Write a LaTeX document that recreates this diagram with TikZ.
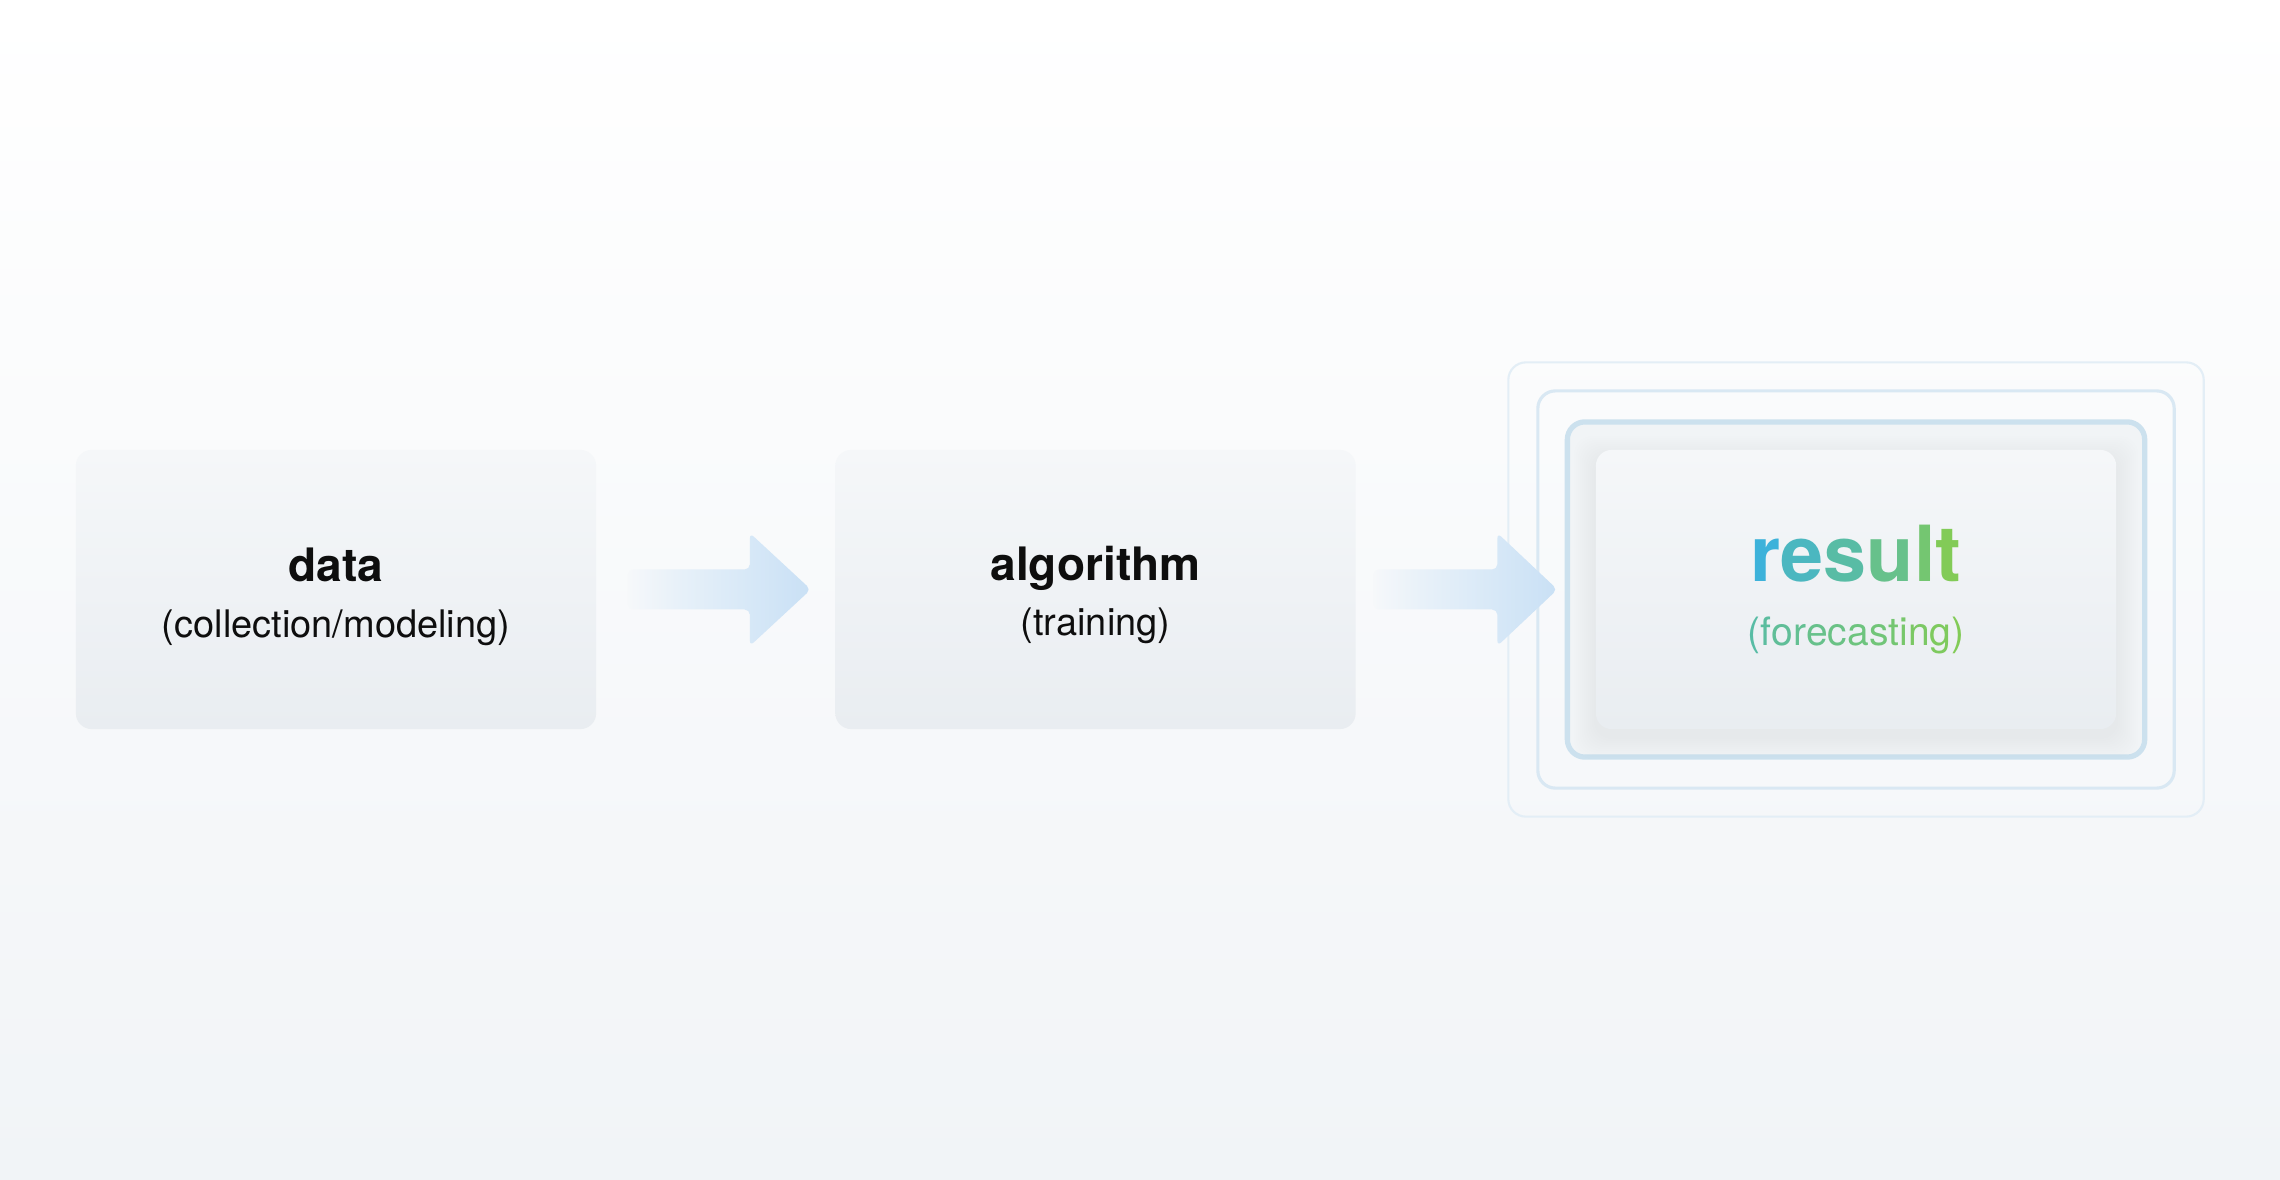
\documentclass[tikz,border=0pt]{standalone}
\usepackage{fontspec}
\setmainfont{TeX Gyre Heros}
\usetikzlibrary{calc}

\definecolor{bgtop}{HTML}{FFFFFF}
\definecolor{bgbottom}{HTML}{F1F4F7}
\definecolor{bgmid}{HTML}{F6F8FA}
\definecolor{cardtop}{HTML}{F5F7F9}
\definecolor{cardbottom}{HTML}{E9EDF1}
\definecolor{arrowpale}{HTML}{E8F1F9}
\definecolor{arrowmid}{HTML}{D7E8F7}
\definecolor{arrowblue}{HTML}{C9E0F5}
\definecolor{ringouter}{HTML}{E3EEF6}
\definecolor{ringmid}{HTML}{D9E8F3}
\definecolor{ringinner}{HTML}{CCE1EE}
\definecolor{ringfill}{HTML}{F1F4F6}
\definecolor{inktext}{HTML}{0E0E0E}
\definecolor{resblue}{HTML}{3DB2DA}
\definecolor{resgreen}{HTML}{82CB57}

\pgfdeclarehorizontalshading{arrowfade}{100bp}{color(0bp)=(bgmid); color(25bp)=(bgmid); color(38bp)=(arrowpale); color(58bp)=(arrowmid); color(75bp)=(arrowblue); color(100bp)=(arrowblue)}

% one letter of the green/blue word
\newcommand{\gradletter}[2]{\textcolor{resgreen!#1!resblue}{#2}}

\tikzset{
  card/.style={rounded corners=4.5pt, minimum width=5.2cm, minimum height=2.79cm,
    top color=cardtop, bottom color=cardbottom, inner sep=0pt},
  ring/.style={rounded corners=5pt, inner sep=0pt},
  title/.style={anchor=base, text=inktext, font=\fontsize{13.1pt}{15pt}\selectfont\bfseries},
  subtitle/.style={anchor=base, text=inktext, font=\fontsize{10.8pt}{13pt}\selectfont},
  flowarrow/.style={shading=arrowfade, rounded corners=1.5pt}
}

\begin{document}
\begin{tikzpicture}[x=0.01cm, y=-0.01cm]
    % background
    \shade[top color=bgtop, bottom color=bgbottom] (0,0) rectangle (2280,1180);

    % plain cards
    \node[card] (data) at (336,589.5) {};
    \node[card] (algo) at (1095.5,589.5) {};

    % rings round the result
    \coordinate (resultpos) at (1856,589.5);
    \node[ring, draw=ringouter, line width=0.6pt, minimum width=6.95cm, minimum height=4.54cm] (ring1) at (resultpos) {};
    \node[ring, draw=ringmid, line width=0.9pt, minimum width=6.36cm, minimum height=3.97cm] (ring2) at (resultpos) {};
    \node[ring, draw=ringinner, line width=1.5pt, fill=ringfill, minimum width=5.77cm, minimum height=3.35cm] (ring3) at (resultpos) {};

    % soft shadow under the result card
    \foreach \s in {2,4,...,22}
        \fill[black, opacity=0.005, rounded corners=5pt] ($(resultpos)+(-260-\s,-139.5-\s+8)$) rectangle ($(resultpos)+(260+\s,139.5+\s+8)$);
    \node[card] (result) at (resultpos) {};

    % texts
    \node[title] (datatitle) at ($(data)+(0,-8)$) {data};
    \node[subtitle] (datasub) at ($(data)+(0,47.5)$) {(collection/modeling)};
    \node[title] (algotitle) at ($(algo)+(0,-9)$) {algorithm};
    \node[subtitle] (algosub) at ($(algo)+(0,46.5)$) {(training)};
    \node[anchor=base, font=\fontsize{22pt}{26pt}\selectfont\bfseries] (restitle) at ($(result)+(0,-7.5)$)
        {\gradletter{0}{r}\gradletter{20}{e}\gradletter{40}{s}\gradletter{60}{u}\gradletter{80}{l}\gradletter{100}{t}};
    \node[anchor=base, font=\fontsize{11.1pt}{13pt}\selectfont] (ressub) at ($(result)+(0,56.5)$)
        {\gradletter{40}{(}\gradletter{45}{f}\gradletter{50}{o}\gradletter{55}{r}\gradletter{60}{e}\gradletter{65}{c}\gradletter{70}{a}\gradletter{75}{s}\gradletter{80}{t}\gradletter{85}{i}\gradletter{90}{n}\gradletter{95}{g}\gradletter{100}{)}};

    % block arrows
    \shade[flowarrow] ($(data.east)+(31,-20)$) -- ++(122,0) -- ++(0,-36.5) -- ++(61,56.5)
        -- ++(-61,56.5) -- ++(0,-36.5) -- ++(-122,0) -- cycle;
    \shade[flowarrow] ($(algo.east)+(17,-20)$) -- ++(124,0) -- ++(0,-36.5) -- ++(60,56.5)
        -- ++(-60,56.5) -- ++(0,-36.5) -- ++(-124,0) -- cycle;
\end{tikzpicture}
\end{document}
